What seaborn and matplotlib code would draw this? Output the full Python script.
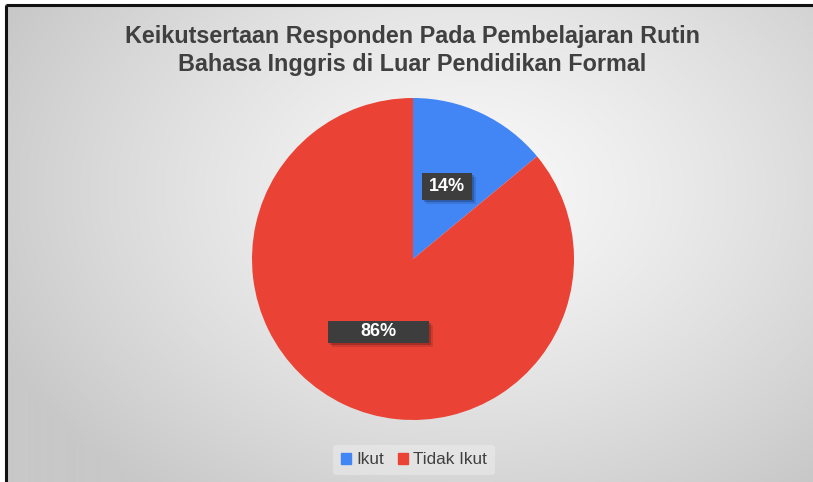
import numpy as np
import matplotlib
matplotlib.use("Agg")
import matplotlib.pyplot as plt
import seaborn as sns
from matplotlib.patches import Rectangle
import matplotlib.patheffects as pe

categories = ["Ikut", "Tidak Ikut"]
values = [14, 86]
colors = ["#4285F4", "#EA4335"]
title = "Keikutsertaan Responden Pada Pembelajaran Rutin\nBahasa Inggris di Luar Pendidikan Formal"

sns.set_theme(style="white")
plt.rcParams['font.family'] = ['Liberation Sans', 'DejaVu Sans']

W, H = 813, 482
fig = plt.figure(figsize=(W / 100, H / 100), dpi=100)

# radial gradient background
bg = fig.add_axes([0, 0, 1, 1])
yy, xx = np.mgrid[0:H, 0:W]
cx, cy = 470, 190
d = np.sqrt(((xx - cx) / 520.0) ** 2 + ((yy - cy) / 380.0) ** 2)
d = np.clip(d, 0, 1)
c = 248 - 48 * d ** 1.3
img = np.dstack([c, c, c]) / 255.0
bg.imshow(img, extent=[0, W, H, 0], aspect="auto")
bg.set_xlim(0, W)
bg.set_ylim(H, 0)
bg.axis("off")
# border lines (top and left)
bg.plot([5.5, W], [4.5, 4.5], color="#111111", lw=2.2, solid_capstyle="butt")
bg.plot([5.5, 5.5], [4.5, H], color="#111111", lw=2.2, solid_capstyle="butt")
bg.add_patch(Rectangle((0, 0), W, 3.4, color="white", zorder=0.5))
bg.add_patch(Rectangle((0, 0), 4.4, H, color="white", zorder=0.5))

# pie
r = 161
cxp, cyp = 413, 259
ax = fig.add_axes([(cxp - r) / W, (H - cyp - r) / H, 2 * r / W, 2 * r / H])
wedges, texts, autotexts = ax.pie(
    values, colors=colors, startangle=90, counterclock=False,
    autopct="%1.0f%%", pctdistance=0.5,
    wedgeprops=dict(linewidth=0),
    textprops=dict(color="white", fontsize=13, fontweight="bold"),
)
ax.set_xlim(-1, 1)
ax.set_ylim(-1, 1)
ax.set_aspect("auto")

# data label boxes (pixel sizes), centred on each label
box_sizes = [(50, 27), (101, 22)]
for t, (bw, bh) in zip(autotexts, box_sizes):
    x, y = t.get_position()
    px, py = ax.transData.transform((x, y))
    bx, by = bg.transData.inverted().transform((px, py))
    rect = Rectangle((bx - bw / 2, by - bh / 2), bw, bh, facecolor="#3d3d3d",
                     edgecolor="none", zorder=3, transform=bg.transData)
    rect.set_path_effects([
        pe.withSimplePatchShadow(offset=(3, -3), shadow_rgbFace="black", alpha=0.12),
        pe.withSimplePatchShadow(offset=(1.5, -1.5), shadow_rgbFace="black", alpha=0.2),
    ])
    fig.add_artist(rect)
    t.remove()
    fig.text(px / W, py / H, t.get_text(), ha="center", va="center", color="white",
             fontsize=13, fontweight="bold", zorder=6)

# title
fig.text(412 / W, 1 - 50.5 / H, title, ha="center", va="center", fontsize=16.8,
         fontweight="bold", color="#404040", linespacing=1.25)

# legend
handles = [Rectangle((0, 0), 1, 1, color=col) for col in colors]
leg = fig.legend(handles, categories, loc="center", bbox_to_anchor=(414 / W, 1 - 460 / H),
                 ncol=2, frameon=True, fontsize=12.3, handlelength=0.6, handleheight=0.6,
                 handletextpad=0.3, columnspacing=0.8, borderpad=0.45)
leg.get_frame().set_facecolor("#eeeeee")
leg.get_frame().set_edgecolor("none")
leg.get_frame().set_alpha(0.5)
for txt in leg.get_texts():
    txt.set_color("#404040")

fig.savefig("out.png", dpi=100)
